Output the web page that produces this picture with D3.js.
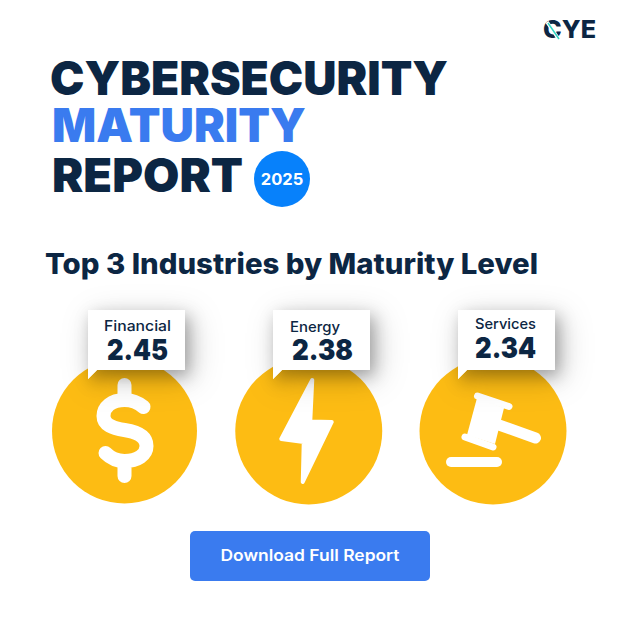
<!DOCTYPE html>
<html>
<head>
<meta charset="utf-8">
<title>Cybersecurity Maturity Report 2025</title>
<script src="https://cdn.jsdelivr.net/npm/d3@7"></script>
<style>
  html, body { margin: 0; padding: 0; background: #fff; }
  svg { display: block; }
  text { font-family: Inter, "Noto Sans", sans-serif; }
</style>
</head>
<body>
<div id="chart"></div>
<script>
// Chart data
var industries = ["Financial", "Energy", "Services"];
var maturity = [2.45, 2.38, 2.34];
var titleLines = ["CYBERSECURITY", "MATURITY", "REPORT"];
var year = "2025";
var subtitle = "Top 3 Industries by Maturity Level";
var buttonLabel = "Download Full Report";

var navy = "#0c2643";
var blue = "#3a7bef";
var amber = "#fdbc13";

var svg = d3.select("#chart").append("svg")
  .attr("width", 620)
  .attr("height", 620)
  .attr("viewBox", "0 0 620 620");

// Soft shadows under the label cards: one wide and faint, one tight
var defs = svg.append("defs");
function addShadow(id, dx, dy, blur, opacity) {
  var filter = defs.append("filter")
    .attr("id", id)
    .attr("x", "-80%").attr("y", "-80%")
    .attr("width", "260%").attr("height", "280%");
  filter.append("feDropShadow")
    .attr("dx", dx).attr("dy", dy)
    .attr("stdDeviation", blur)
    .attr("flood-color", "#000")
    .attr("flood-opacity", opacity);
}
addShadow("shadowWide", 6, 8, 16, 0.2);
addShadow("shadowTight", 4, 6, 8, 0.28);

// Logo
var logo = svg.append("g");
logo.append("text")
  .attr("x", 596).attr("y", 38)
  .attr("text-anchor", "end")
  .attr("font-size", 24)
  .attr("font-weight", 800)
  .attr("textLength", 53)
  .attr("lengthAdjust", "spacingAndGlyphs")
  .attr("fill", navy)
  .text("CYE");
logo.append("line")
  .attr("x1", 547).attr("y1", 22)
  .attr("x2", 560).attr("y2", 41)
  .attr("stroke", "#fff")
  .attr("stroke-width", 3.5);
logo.append("line")
  .attr("x1", 548).attr("y1", 23)
  .attr("x2", 559).attr("y2", 39)
  .attr("stroke", "#2fd6c3")
  .attr("stroke-width", 1.5);

// Title block
var titleX = [50, 52, 52];
var titleY = [95, 142, 192];
var titleW = [398, 254, 191];
svg.append("g").selectAll("text")
  .data(titleLines)
  .join("text")
  .attr("x", (d, i) => titleX[i])
  .attr("y", (d, i) => titleY[i])
  .attr("font-size", 47)
  .attr("font-weight", 900)
  .attr("textLength", (d, i) => titleW[i])
  .attr("lengthAdjust", "spacingAndGlyphs")
  .attr("fill", (d, i) => i === 1 ? blue : navy)
  .text(d => d);

// Year badge
svg.append("circle")
  .attr("cx", 282).attr("cy", 179).attr("r", 28)
  .attr("fill", "#0781fb");
svg.append("text")
  .attr("x", 282).attr("y", 185)
  .attr("text-anchor", "middle")
  .attr("font-size", 16.5)
  .attr("font-weight", 700)
  .attr("fill", "#fff")
  .text(year);

// Subtitle
svg.append("text")
  .attr("x", 45).attr("y", 274)
  .attr("font-size", 28)
  .attr("font-weight", 800)
  .attr("textLength", 493)
  .attr("lengthAdjust", "spacingAndGlyphs")
  .attr("fill", navy)
  .text(subtitle);

// Industry columns
var x = d3.scalePoint()
  .domain(industries)
  .range([124.5, 493]);
var radius = [72.5, 73.5, 73.5];
var centerY = 431;

var cardW = 97;
var cardH = 60;
var cardTop = 310;
var cardOffset = [-36.5, -35.75, -35];

var columns = svg.append("g").selectAll("g")
  .data(industries)
  .join("g")
  .attr("transform", d => `translate(${x(d)},${centerY})`);

columns.append("circle")
  .attr("r", (d, i) => radius[i])
  .attr("fill", amber);

// White icons, drawn around the circle centre
var dollar = d3.select(columns.nodes()[0]);
dollar.append("path")
  .attr("d", "M19,-24 C13,-29 6,-31 0,-31 C-13,-31 -21,-24 -21,-15 C-21,-6 -12,-3 0,-1 C13,1 22,5 22,15 C22,24 13,30 0,30 C-7,30 -14,27 -19,22 M0,-46 V-33 M0,33 V45")
  .attr("fill", "none")
  .attr("stroke", "#fff")
  .attr("stroke-width", 14)
  .attr("stroke-linecap", "round")
  .attr("stroke-linejoin", "round");

var bolt = d3.select(columns.nodes()[1]);
bolt.append("path")
  .attr("d", "M3.5,-51 L1.5,-9.5 L23,-9 L-6,51 L-5,11 L-27.5,8 Z")
  .attr("fill", "#fff")
  .attr("stroke", "#fff")
  .attr("stroke-width", 4)
  .attr("stroke-linejoin", "round");

var gavel = d3.select(columns.nodes()[2]);
gavel.append("path")
  .attr("d", "M-16,-33 L11,-23 L2,13 L-26,4 Z")
  .attr("fill", "#fff");
gavel.append("path")
  .attr("d", "M-15.5,-35 L16,-24.5 M-28,6 L0,16")
  .attr("fill", "none")
  .attr("stroke", "#fff")
  .attr("stroke-width", 7)
  .attr("stroke-linecap", "round");
gavel.append("path")
  .attr("d", "M6,-6 L42.5,7")
  .attr("fill", "none")
  .attr("stroke", "#fff")
  .attr("stroke-width", 11)
  .attr("stroke-linecap", "round");
gavel.append("line")
  .attr("x1", -42).attr("y1", 31)
  .attr("x2", 4).attr("y2", 31)
  .attr("stroke", "#fff")
  .attr("stroke-width", 10)
  .attr("stroke-linecap", "round");

// Label cards with a small pointer on the lower left
var cards = columns.append("g")
  .attr("transform", (d, i) => `translate(${cardOffset[i]},${cardTop - centerY})`);

var cardPath = `M0,0 H${cardW} V${cardH} H9 L0,${cardH + 9} Z`;
cards.append("path")
  .attr("d", cardPath)
  .attr("fill", "#fff")
  .attr("filter", "url(#shadowWide)");
cards.append("path")
  .attr("d", cardPath)
  .attr("fill", "#fff")
  .attr("filter", "url(#shadowTight)");

var nameX = [16, 17, 17];
var nameY = [21, 22, 19];
var nameW = [67, 50, 61];
var valueX = [19, 19, 17];
var valueY = [50, 50, 48];

cards.append("text")
  .attr("x", (d, i) => nameX[i])
  .attr("y", (d, i) => nameY[i])
  .attr("font-size", 14.5)
  .attr("font-weight", 500)
  .attr("textLength", (d, i) => nameW[i])
  .attr("lengthAdjust", "spacingAndGlyphs")
  .attr("fill", navy)
  .text(d => d);

cards.append("text")
  .attr("x", (d, i) => valueX[i])
  .attr("y", (d, i) => valueY[i])
  .attr("font-size", 28)
  .attr("font-weight", 900)
  .attr("textLength", 61)
  .attr("lengthAdjust", "spacingAndGlyphs")
  .attr("fill", navy)
  .text((d, i) => maturity[i].toFixed(2));

// Download button
svg.append("rect")
  .attr("x", 190).attr("y", 531)
  .attr("width", 240).attr("height", 50)
  .attr("rx", 5)
  .attr("fill", blue);
svg.append("text")
  .attr("x", 310).attr("y", 561)
  .attr("text-anchor", "middle")
  .attr("font-size", 16)
  .attr("font-weight", 600)
  .attr("textLength", 179)
  .attr("lengthAdjust", "spacingAndGlyphs")
  .attr("fill", "#fff")
  .text(buttonLabel);
</script>
</body>
</html>
